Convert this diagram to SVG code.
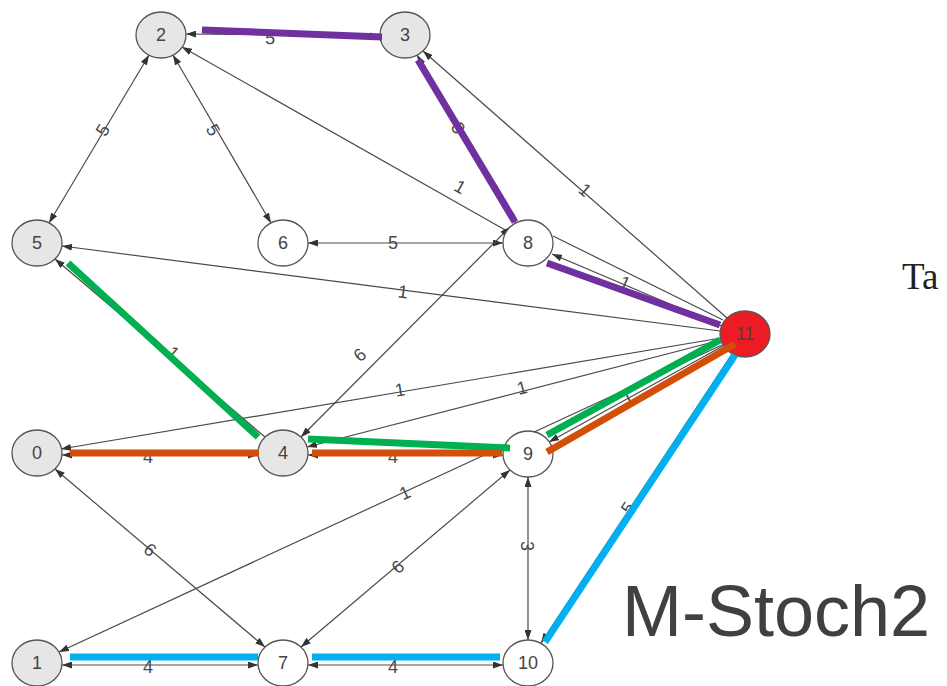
<svg xmlns="http://www.w3.org/2000/svg" width="947" height="686" viewBox="0 0 947 686">
  <style>
    .e { stroke: #4a4a4a; stroke-width: 1.2; fill: none; }
    .bi { marker-start: url(#ah); marker-end: url(#ah); }
    .to { marker-end: url(#ah); }
    .lbl { font-family: "Liberation Sans", Arial, sans-serif; font-size: 18px; fill: #4a4a4a; text-anchor: middle; dominant-baseline: central; }
    .node ellipse { stroke: #555; stroke-width: 1.3; }
    .node text { font-family: "Liberation Sans", Arial, sans-serif; font-size: 18px; fill: #444; text-anchor: middle; dominant-baseline: central; }
    .g ellipse { fill: #e6e6e6; }
    .w ellipse { fill: #ffffff; }
    .path { fill: none; stroke-width: 7; stroke-linecap: butt; }
    .pu { stroke: #7030a0; }
    .gr { stroke: #00b050; }
    .or { stroke: #d24f0a; }
    .bl { stroke: #00b0f0; }
  </style>
  <defs>
    <marker id="ah" viewBox="0 0 10 7" refX="10" refY="3.5" markerWidth="10" markerHeight="7" markerUnits="userSpaceOnUse" orient="auto-start-reverse">
      <path d="M0,0 L10,3.5 L0,7 z" fill="#333"/>
    </marker>
  </defs>

  <!-- weighted edges -->
  <g id="edges">
    <line class="e bi" x1="186" y1="34" x2="380" y2="36"/>
    <line class="e bi" x1="149" y1="55" x2="49" y2="223"/>
    <line class="e bi" x1="173" y1="55" x2="271" y2="223"/>
    <line class="e to" x1="507" y1="231" x2="182" y2="47"/>
    <line class="e to" x1="727" y1="318" x2="423" y2="51"/>
    <line class="e bi" x1="417" y1="55" x2="516" y2="223"/>
    <line class="e bi" x1="308" y1="243" x2="503" y2="243"/>
    <line class="e to" x1="720" y1="331" x2="62" y2="246"/>
    <line class="e" x1="553" y1="236" x2="723" y2="320"/>
    <line class="e to" x1="724" y1="327" x2="552" y2="254"/>
    <line class="e bi" x1="301" y1="437" x2="510" y2="227"/>
    <line class="e to" x1="721" y1="338" x2="61" y2="449"/>
    <line class="e to" x1="721" y1="340" x2="307" y2="447"/>
    <line class="e to" x1="722" y1="345" x2="59" y2="652"/>
    <line class="e to" x1="723" y1="346" x2="549" y2="442"/>
    <line class="e bi" x1="62" y1="455" x2="258" y2="455"/>
    <line class="e bi" x1="308" y1="455" x2="503" y2="455"/>
    <line class="e to" x1="265" y1="437" x2="55" y2="259"/>
    <line class="e bi" x1="55" y1="469" x2="265" y2="647"/>
    <line class="e bi" x1="301" y1="647" x2="510" y2="470"/>
    <line class="e bi" x1="528" y1="477" x2="528" y2="640"/>
    <line class="e bi" x1="62" y1="665" x2="258" y2="665"/>
    <line class="e bi" x1="308" y1="665" x2="503" y2="665"/>
    <line class="e to" x1="732" y1="354" x2="541" y2="643"/>

    <!-- edge weights -->
    <text class="lbl" x="270" y="38" transform="rotate(1 270 38)">5</text>
    <text class="lbl" x="103" y="130" transform="rotate(-59 103 130)">5</text>
    <text class="lbl" x="213" y="130" transform="rotate(60 213 130)">5</text>
    <text class="lbl" x="458" y="128" transform="rotate(59 458 128)">3</text>
    <text class="lbl" x="460" y="187" transform="rotate(29.5 460 187)">1</text>
    <text class="lbl" x="585" y="190" transform="rotate(41 585 190)">1</text>
    <text class="lbl" x="393" y="243">5</text>
    <text class="lbl" x="403" y="292" transform="rotate(7.3 403 292)">1</text>
    <text class="lbl" x="625" y="283" transform="rotate(23 625 283)">1</text>
    <text class="lbl" x="360" y="355" transform="rotate(-40.6 360 355)">6</text>
    <text class="lbl" x="400" y="390" transform="rotate(-9.5 400 390)">1</text>
    <text class="lbl" x="522" y="388" transform="rotate(-14.4 522 388)">1</text>
    <text class="lbl" x="173" y="353" transform="rotate(40.5 173 353)">1</text>
    <text class="lbl" x="148" y="457">4</text>
    <text class="lbl" x="393" y="457">4</text>
    <text class="lbl" x="405" y="493" transform="rotate(-25 405 493)">1</text>
    <text class="lbl" x="628" y="398" transform="rotate(-29 628 398)">1</text>
    <text class="lbl" x="150" y="550" transform="rotate(40.5 150 550)">6</text>
    <text class="lbl" x="398" y="567" transform="rotate(-40.5 398 567)">6</text>
    <text class="lbl" x="527" y="546" transform="rotate(90 527 546)">3</text>
    <text class="lbl" x="628" y="508" transform="rotate(-56.6 628 508)">5</text>
    <text class="lbl" x="148" y="667">4</text>
    <text class="lbl" x="393" y="667">4</text>
  </g>

  <!-- vertices -->
  <g id="n0" class="node g"><ellipse cx="37" cy="453" rx="25" ry="23"/><text x="37" y="453">0</text></g>
  <g id="n1" class="node g"><ellipse cx="37" cy="663" rx="25" ry="23"/><text x="37" y="663">1</text></g>
  <g id="n2" class="node g"><ellipse cx="161" cy="35" rx="25" ry="23"/><text x="161" y="35">2</text></g>
  <g id="n3" class="node g"><ellipse cx="405" cy="35" rx="25" ry="23"/><text x="405" y="35">3</text></g>
  <g id="n4" class="node g"><ellipse cx="283" cy="453" rx="25" ry="23"/><text x="283" y="453">4</text></g>
  <g id="n5" class="node g"><ellipse cx="37" cy="243" rx="25" ry="23"/><text x="37" y="243">5</text></g>
  <g id="n6" class="node w"><ellipse cx="283" cy="243" rx="25" ry="23"/><text x="283" y="243">6</text></g>
  <g id="n7" class="node w"><ellipse cx="283" cy="663" rx="25" ry="23"/><text x="283" y="663">7</text></g>
  <g id="n8" class="node w"><ellipse cx="528" cy="243" rx="25" ry="23"/><text x="528" y="243">8</text></g>
  <g id="n9" class="node w"><ellipse cx="528" cy="454" rx="25" ry="23"/><text x="528" y="454">9</text></g>
  <g id="n10" class="node w"><ellipse cx="528" cy="663" rx="25" ry="23"/><text x="528" y="663">10</text></g>
  <g id="n11" class="node"><ellipse cx="745" cy="334" rx="25" ry="23" fill="#ed1c24" stroke="#9b1a1a"/><text x="745" y="334" fill="#4a1010">11</text></g>

  <!-- highlighted routes -->
  <g id="routes">
    <line class="path pu" x1="202" y1="30" x2="382" y2="37"/>
    <line class="path pu" x1="418" y1="60" x2="515" y2="222"/>
    <line class="path pu" x1="547" y1="263" x2="720" y2="325"/>
    <line class="path gr" x1="68" y1="263" x2="258" y2="437"/>
    <line class="path gr" x1="308" y1="439" x2="510" y2="448"/>
    <line class="path gr" x1="547" y1="435" x2="720" y2="340"/>
    <line class="path or" x1="70" y1="453" x2="259" y2="453"/>
    <line class="path or" x1="312" y1="453" x2="502" y2="453"/>
    <line class="path or" x1="547" y1="452" x2="735" y2="344"/>
    <line class="path bl" x1="70" y1="657" x2="258" y2="657"/>
    <line class="path bl" x1="312" y1="657" x2="500" y2="657"/>
    <line class="path bl" x1="545" y1="642" x2="735" y2="355"/>
  </g>

  <text x="902" y="289" font-family="'Liberation Serif', 'Times New Roman', serif" font-size="37" fill="#222">Ta</text>
  <text x="622" y="636" font-family="'Liberation Sans', Arial, sans-serif" font-size="72" fill="#404040">M-Stoch2</text>
</svg>
